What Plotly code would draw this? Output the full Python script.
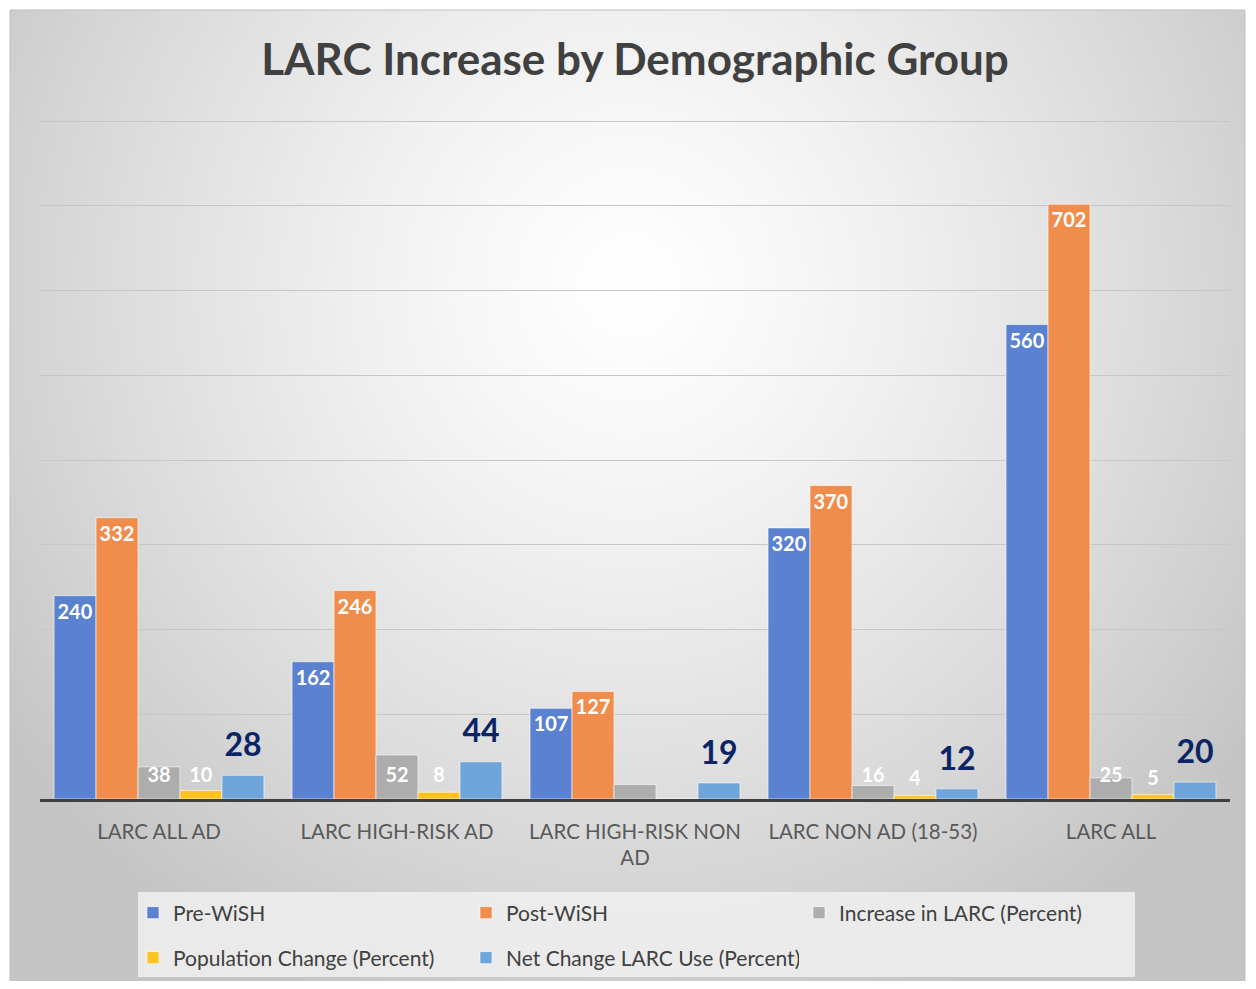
import base64, struct, zlib
import numpy as np
import plotly.graph_objects as go

categories = ["LARC ALL AD", "LARC HIGH-RISK AD", "LARC HIGH-RISK NON AD", "LARC NON AD (18-53)", "LARC ALL"]
tick_labels = ["LARC ALL AD", "LARC HIGH-RISK AD", "LARC HIGH-RISK NON<br>AD", "LARC NON AD (18-53)", "LARC ALL"]
pre_wish = [240, 162, 107, 320, 560]
post_wish = [332, 246, 127, 370, 702]
increase_pct = [38, 52, 17, 16, 25]
increase_lbl = ["38", "52", "", "16", "25"]
population_pct = [10, 8, 0, 4, 5]
population_lbl = ["10", "8", "", "4", "5"]
net_change_pct = [28, 44, 19, 12, 20]

OFF = 8  # browser body margin
W, H = 1256 - 2 * OFF, 989 - 2 * OFF
YMAX = 805
unit_px = (799 - 121) / 800.0
L = 40 - OFF
T = int(round(121 - (YMAX - 800) * unit_px)) - OFF
R = W - (1230 - OFF)
B = H - (799 - OFF)
pw, ph = W - L - R, H - T - B

def px_x(x):
    return (x - OFF - L) / pw

def px_y(y):
    return (H - B - (y - OFF)) / ph

# radial gradient background image
def make_png(arr):
    h, w, _ = arr.shape
    raw = b"".join(b"\x00" + arr[i].tobytes() for i in range(h))
    def chunk(t, d):
        c = struct.pack(">I", len(d)) + t + d
        return c + struct.pack(">I", zlib.crc32(t + d) & 0xffffffff)
    return (b"\x89PNG\r\n\x1a\n" + chunk(b"IHDR", struct.pack(">IIBBBBB", w, h, 8, 2, 0, 0, 0))
            + chunk(b"IDAT", zlib.compress(raw, 9)) + chunk(b"IEND", b""))

gw, gh = 320, 250
yy, xx = np.mgrid[0:gh, 0:gw]
cx, cy = gw * 0.50, gh * 0.28
d = np.sqrt(((xx - cx) / (gw * 0.62)) ** 2 + ((yy - cy) / (gh * 0.80)) ** 2)
d = np.clip(d, 0, 1)
v = 255 - 58 * d ** 1.3
img = np.stack([v, v, v], axis=-1).astype(np.uint8)
uri = "data:image/png;base64," + base64.b64encode(make_png(img)).decode()

FONT = "Lato"
fig = go.Figure()

def bar(name, vals, color, text, tpos, tfont, legend, anchor="end"):
    fig.add_trace(go.Bar(
        x=categories, y=vals, name=name, legend=legend,
        marker=dict(color=color, line=dict(color="rgba(255,255,255,0.6)", width=1)),
        text=text, textposition=tpos, insidetextanchor=anchor, constraintext="none", textangle=0,
        textfont=tfont, cliponaxis=False, hoverinfo="skip",
    ))

def lifted(s, size):
    # label followed by a small blank line, which lifts it off the bar base
    return "<span style='font-size:%dpx'>%s</span><br> " % (size, s) if s else ""

wfont = dict(family=FONT, size=20, color="white", weight="bold")
sfont = dict(family=FONT, size=9, color="white", weight="bold")
bar("Pre-WiSH", pre_wish, "#5A82D0", [str(v) for v in pre_wish], "inside", wfont, "legend")
bar("Post-WiSH", post_wish, "#F08C4C", [str(v) for v in post_wish], "inside", wfont, "legend")
bar("Increase in LARC (Percent)", increase_pct, "#ADADAD",
    [lifted(s, 20) for s in increase_lbl], "inside", sfont, "legend", anchor="start")
bar("Population Change (Percent)", population_pct, "#FFC31F",
    [lifted(s, 20) for s in population_lbl], "inside", sfont, "legend2", anchor="start")
bar("Net Change LARC Use (Percent)", net_change_pct, "#6FA5DA",
    [lifted(str(v), 32) for v in net_change_pct], "outside",
    dict(family=FONT, size=11, color="#0B2466", weight="bold"), "legend2")

legend_common = dict(
    orientation="h", xanchor="left", yanchor="middle", bgcolor="rgba(0,0,0,0)",
    font=dict(family=FONT, size=21, color="#404040"),
    entrywidth=288, entrywidthmode="pixels", itemclick=False, itemdoubleclick=False,
    traceorder="normal", itemwidth=30,
)

fig.update_layout(
    width=W, height=H,
    margin=dict(l=L, r=R, t=T, b=B, autoexpand=False),
    paper_bgcolor="white", plot_bgcolor="rgba(0,0,0,0)",
    barmode="group", bargap=0.118, bargroupgap=0,
    title=dict(text="<b>LARC Increase by Demographic Group</b>", x=(635 - OFF) / W, xref="container",
               y=1 - (60 - OFF) / H, yref="container", xanchor="center", yanchor="middle",
               font=dict(family=FONT, size=44, color="#404040")),
    xaxis=dict(tickvals=categories, ticktext=tick_labels, showline=True, linecolor="#404040",
               linewidth=3, ticks="", showgrid=False, ticklabelstandoff=12,
               tickfont=dict(family=FONT, size=20.5, color="#595959")),
    yaxis=dict(range=[0, YMAX], tickvals=[100, 200, 300, 400, 500, 600, 700, 800], showticklabels=False,
               showgrid=True, gridcolor="#C6C6C6", gridwidth=1, zeroline=False, fixedrange=True),
    legend=dict(x=px_x(133), y=px_y(913), **legend_common),
    legend2=dict(x=px_x(133), y=px_y(958), **legend_common),
    images=[dict(source=uri, xref="paper", yref="paper", x=px_x(10), y=px_y(10),
                 sizex=(1245 - 10) / pw, sizey=(987 - 10) / ph, xanchor="left", yanchor="top",
                 sizing="stretch", layer="below")],
    shapes=[
        dict(type="rect", xref="paper", yref="paper", x0=px_x(10), x1=px_x(1245), y0=px_y(987), y1=px_y(10),
             line=dict(color="#BFBFBF", width=1), fillcolor="rgba(0,0,0,0)", layer="below"),
        dict(type="rect", xref="paper", yref="paper", x0=px_x(138), x1=px_x(1135), y0=px_y(977), y1=px_y(892),
             line=dict(width=0), fillcolor="rgba(240,240,240,0.85)", layer="below"),
    ],
)

fig.write_html("out.html")
